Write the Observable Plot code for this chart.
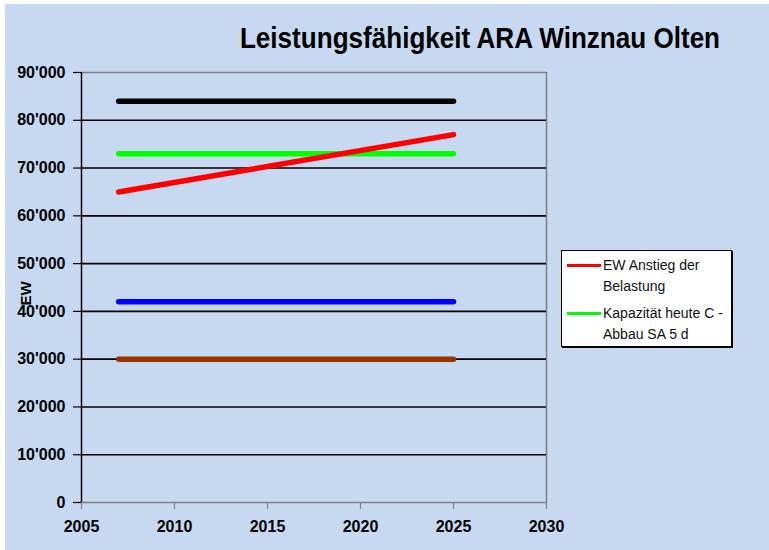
<!DOCTYPE html>
<html>
<head>
<meta charset="utf-8">
<script src="https://cdn.jsdelivr.net/npm/d3@7"></script>
<script src="https://cdn.jsdelivr.net/npm/@observablehq/plot@0.6"></script>
<style>
  html, body { margin: 0; padding: 0; background: #ffffff; }
  #wrap { position: relative; width: 769px; height: 550px; overflow: hidden; }
  #bg { position: absolute; left: 5px; top: 4px; right: 0; bottom: 0; background: #c6d9f0; }
  #chart { position: absolute; left: 0; top: 0; }
  #title {
    position: absolute; left: 480px; top: 20px; white-space: nowrap;
    font-family: "Liberation Sans", Arial, sans-serif; font-weight: bold; font-size: 29px;
    line-height: 36px; color: #000; transform-origin: 50% 50%;
  }
  #legend {
    position: absolute; left: 561px; top: 250px; width: 171px; height: 97px;
    background: #ffffff; border: 1px solid #000; box-shadow: 1px 1px 0 #000;
    font-family: "Liberation Sans", Arial, sans-serif; font-size: 14px; color: #111;
    box-sizing: border-box;
  }
  .item { position: absolute; left: 0; }
  .swatch { position: absolute; left: 5px; width: 34px; height: 3px; }
  .lbl { position: absolute; left: 41px; line-height: 21px; white-space: nowrap; }
</style>
</head>
<body>
<div id="wrap">
  <div id="bg"></div>
  <div id="chart"></div>
  <div id="title"></div>
  <div id="legend"></div>
</div>
<script>
// ---- data ----
const title = "Leistungsfähigkeit ARA Winznau Olten";
const yLabel = "EW";
const years = [2007, 2025];
const seriesColors = ["#000000", "#00ff00", "#ff0000", "#0000ff", "#993300"];
const seriesStart = [84000, 73000, 65000, 42000, 30000];
const seriesEnd   = [84000, 73000, 77000, 42000, 30000];
const xTicks = [2005, 2010, 2015, 2020, 2025, 2030];
const yTicks = [0, 10000, 20000, 30000, 40000, 50000, 60000, 70000, 80000, 90000];
const legendColors = ["#ff0000", "#00ff00"];
const legendLabels = [["EW Anstieg der", "Belastung"], ["Kapazität heute C -", "Abbau SA 5 d"]];

// ---- build table ----
const rows = [];
seriesColors.forEach((c, i) => {
  rows.push({series: i, color: c, year: years[0], value: seriesStart[i]});
  rows.push({series: i, color: c, year: years[1], value: seriesEnd[i]});
});
const fmt = d => d3.format(",")(d).replace(/,/g, "'");

const plot = Plot.plot({
  width: 769,
  height: 550,
  marginLeft: 81,
  marginRight: 223,
  marginTop: 72,
  marginBottom: 48,
  style: {background: "transparent", fontFamily: "'Liberation Sans', Arial, sans-serif", color: "#000"},
  x: {domain: [2005, 2030]},
  y: {domain: [0, 90000]},
  marks: [
    Plot.ruleY(yTicks.filter(d => d > 0 && d < 90000), {stroke: "#000", strokeWidth: 1.6}),
    Plot.ruleY([90000], {stroke: "#808080", strokeWidth: 1.5}),
    Plot.ruleX([2030], {stroke: "#808080", strokeWidth: 1.5}),
    Plot.ruleY([0], {stroke: "#808080", strokeWidth: 1.5}),
    Plot.ruleX([2005], {stroke: "#000", strokeWidth: 1.5}),
    Plot.axisY({ticks: yTicks, tickFormat: fmt, tickSize: 8, tickPadding: 8, fontSize: 16, fontWeight: "bold", label: null, stroke: "#000", strokeWidth: 1.2}),
    Plot.axisX({ticks: xTicks, tickFormat: d => String(d), tickSize: 7, tickPadding: 11, fontSize: 16, fontWeight: "bold", label: null, stroke: "#808080", strokeWidth: 1.2}),
    Plot.line(rows, {x: "year", y: "value", z: "series", stroke: "color", strokeWidth: 5.5, strokeLinecap: "round"}),
    Plot.text([yLabel], {frameAnchor: "left", dx: -55, dy: 18, rotate: -90, fontSize: 15, fontWeight: "bold", fill: "#000"})
  ]
});
document.getElementById("chart").appendChild(plot);

// ---- title (condensed to the reference's narrow face) ----
const t = document.getElementById("title");
t.textContent = title;
const k = 480 / t.offsetWidth;
t.style.transform = `translateX(-50%) scaleX(${k})`;

// ---- legend ----
const legend = document.getElementById("legend");
const tops = [4, 52];
legendLabels.forEach((lines, i) => {
  const item = document.createElement("div");
  item.className = "item";
  item.style.top = tops[i] + "px";
  const sw = document.createElement("div");
  sw.className = "swatch";
  sw.style.background = legendColors[i];
  sw.style.top = "9px";
  const lbl = document.createElement("div");
  lbl.className = "lbl";
  lbl.innerHTML = lines.join("<br>");
  item.appendChild(sw);
  item.appendChild(lbl);
  legend.appendChild(item);
});
</script>
</body>
</html>
